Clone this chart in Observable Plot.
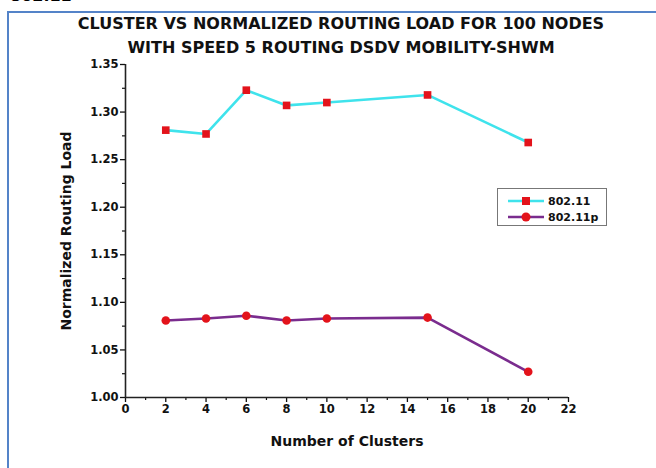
<!DOCTYPE html>
<html>
<head>
<meta charset="utf-8">
<script src="https://cdn.jsdelivr.net/npm/d3@7"></script>
<script src="https://cdn.jsdelivr.net/npm/@observablehq/plot@0.6"></script>
<style>
  html, body { margin: 0; padding: 0; background: #fff; }
  body { width: 656px; height: 468px; overflow: hidden; position: relative; font-family: "DejaVu Sans", Arial, sans-serif; }
  #frame { position: absolute; left: 7px; top: 11px; width: 700px; height: 500px; border-left: 2.5px solid #5483C8; border-top: 2.5px solid #5483C8; }
  #cut { position: absolute; left: 10px; top: -14px; font: bold 16px "DejaVu Sans", Arial, sans-serif; color: #000; }
  .title { position: absolute; left: 0; width: 682px; text-align: center; font: bold 16px "DejaVu Sans", Arial, sans-serif; color: #111; }
  #chart { position: absolute; left: 0; top: 0; }
  #chart svg text { font-family: "DejaVu Sans", Arial, sans-serif; font-weight: bold; }
  #legend { position: absolute; left: 497px; top: 188px; width: 108px; height: 36px; border: 1px solid #777; background: #fff; }
</style>
</head>
<body>
<div id="frame"></div>
<div id="cut">802.11</div>
<div class="title" style="top:14px">CLUSTER VS NORMALIZED ROUTING LOAD FOR 100 NODES</div>
<div class="title" style="top:38px">WITH SPEED 5 ROUTING DSDV MOBILITY-SHWM</div>
<div id="chart"></div>
<div id="legend"></div>
<script>
const clusters = [2, 4, 6, 8, 10, 15, 20];
const load80211 = [1.281, 1.277, 1.323, 1.307, 1.310, 1.318, 1.268];
const load80211p = [1.081, 1.083, 1.086, 1.081, 1.083, 1.084, 1.027];
const seriesNames = ["802.11", "802.11p"];
const xTicks = [0, 2, 4, 6, 8, 10, 12, 14, 16, 18, 20, 22];
const xMinorTicks = [1, 3, 5, 7, 9, 11, 13, 15, 17, 19, 21];
const yTicks = [1.00, 1.05, 1.10, 1.15, 1.20, 1.25, 1.30, 1.35];
const yMinorTicks = [1.025, 1.075, 1.125, 1.175, 1.225, 1.275, 1.325];

const cyan = "#3FE3EC", purple = "#7A2C8E", red = "#E3131B";

const rows = [];
clusters.forEach((c, i) => {
  rows.push({series: seriesNames[0], x: c, y: load80211[i]});
  rows.push({series: seriesNames[1], x: c, y: load80211p[i]});
});
const s1 = rows.filter(d => d.series === seriesNames[0]);
const s2 = rows.filter(d => d.series === seriesNames[1]);

const plot = Plot.plot({
  width: 656,
  height: 468,
  marginLeft: 125,
  marginRight: 88,
  marginTop: 64,
  marginBottom: 71,
  style: {background: "transparent", color: "#111", fontSize: "11.5px"},
  x: {domain: [0, 22]},
  y: {domain: [1.0, 1.35]},
  marks: [
    Plot.axisX({ticks: xTicks, tickSize: 5, tickPadding: 2, tickFormat: d => d, fontSize: 11.5,
      label: "Number of Clusters", labelAnchor: "center", labelOffset: 48, labelArrow: "none", strokeWidth: 1.3}),
    Plot.axisX({ticks: xMinorTicks, tickSize: 3, text: null, label: null, strokeWidth: 1.2}),
    Plot.axisY({ticks: yTicks, tickSize: 5, tickPadding: 2, tickFormat: d3.format(".2f"), fontSize: 11.5,
      label: "Normalized Routing Load", labelAnchor: "center", labelOffset: 64, labelArrow: "none", strokeWidth: 1.3}),
    Plot.axisY({ticks: yMinorTicks, tickSize: 3, text: null, label: null, strokeWidth: 1.2}),
    Plot.ruleX([0], {stroke: "#222", strokeWidth: 1.6}),
    Plot.ruleY([1.0], {stroke: "#222", strokeWidth: 1.6}),
    Plot.line(s1, {x: "x", y: "y", stroke: cyan, strokeWidth: 2.6}),
    Plot.line(s2, {x: "x", y: "y", stroke: purple, strokeWidth: 2.6}),
    Plot.dot(s1, {x: "x", y: "y", symbol: "square", r: 4.3, fill: red, stroke: "none"}),
    Plot.dot(s2, {x: "x", y: "y", symbol: "circle", r: 4.3, fill: red, stroke: "none"})
  ]
});
document.getElementById("chart").appendChild(plot);
plot.querySelectorAll('[aria-label="x-axis label"] text, [aria-label="y-axis label"] text').forEach(t => {
  t.style.fontSize = "14px";
  t.style.fontWeight = "bold";
});

// legend
const lg = d3.select("#legend").append("svg").attr("width", 108).attr("height", 36);
const items = [{name: seriesNames[0], color: cyan, sym: "square"}, {name: seriesNames[1], color: purple, sym: "circle"}];
items.forEach((it, i) => {
  const y = 12 + i * 16;
  lg.append("line").attr("x1", 10).attr("x2", 46).attr("y1", y).attr("y2", y).attr("stroke", it.color).attr("stroke-width", 2.6);
  if (it.sym === "square") lg.append("rect").attr("x", 24).attr("y", y - 4).attr("width", 8).attr("height", 8).attr("fill", red);
  else lg.append("circle").attr("cx", 28).attr("cy", y).attr("r", 4.5).attr("fill", red);
  lg.append("text").attr("x", 50).attr("y", y + 4).text(it.name)
    .attr("font-family", "DejaVu Sans, Arial, sans-serif").attr("font-weight", "bold").attr("font-size", 11).attr("fill", "#111");
});
</script>
</body>
</html>
